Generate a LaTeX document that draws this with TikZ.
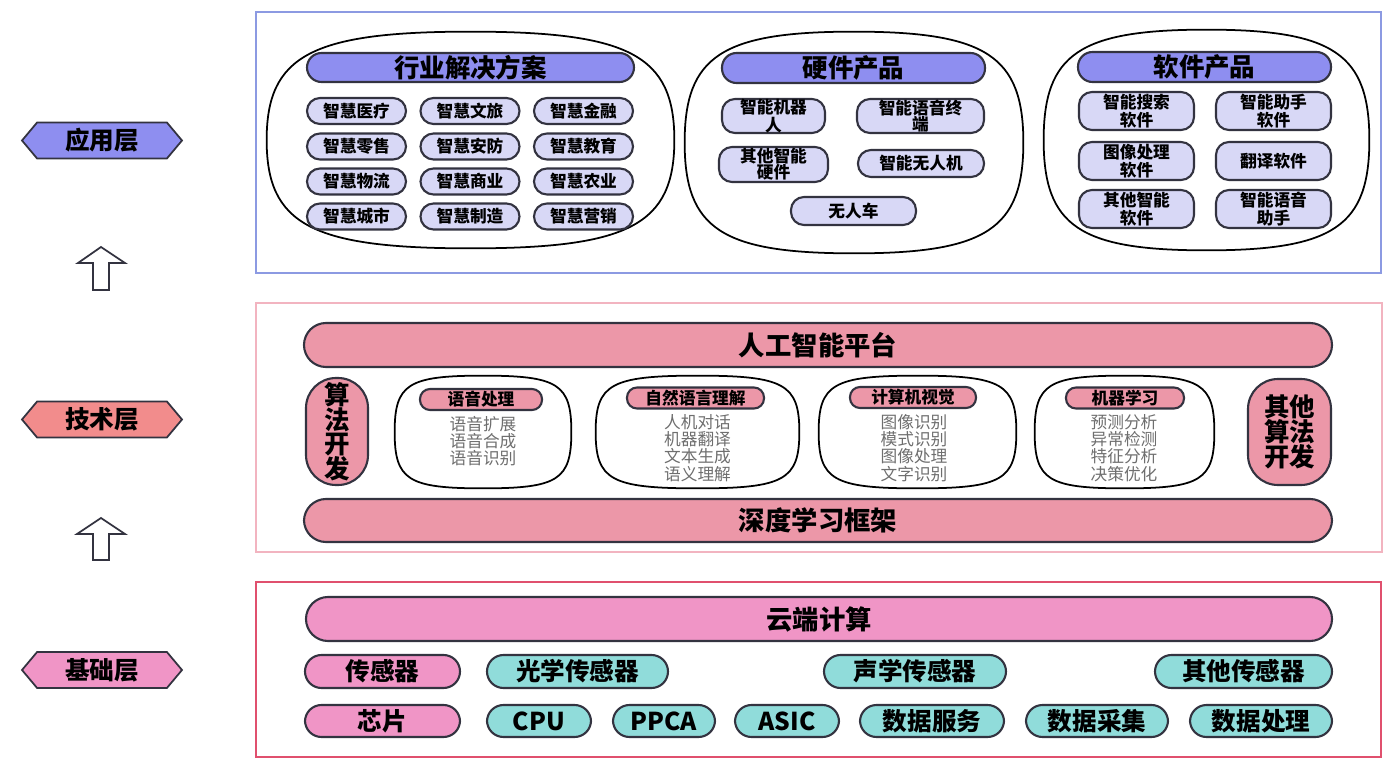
\documentclass[tikz,border=0pt]{standalone}
\usepackage{fontspec}
\setmainfont{Noto Sans CJK SC}
\usetikzlibrary{shapes.symbols,calc}

\definecolor{appblue}{HTML}{8E8EF0}
\definecolor{applight}{HTML}{D8D8F6}
\definecolor{appline}{HTML}{8C9AE2}
\definecolor{techrose}{HTML}{EC97A8}
\definecolor{techhex}{HTML}{F28C8C}
\definecolor{techline}{HTML}{F2B4C0}
\definecolor{basepink}{HTML}{F095C6}
\definecolor{baseteal}{HTML}{90DCDA}
\definecolor{baseline}{HTML}{E0506E}
\definecolor{pillline}{HTML}{333340}
\definecolor{txtgray}{HTML}{6E6E6E}

% rounded outline around a named box
\newcommand{\roundgroup}[2][0.75]{%
	\draw [line width=1pt] (#2.north)
	.. controls ($(#2.north)!#1!(#2.north east)$) and ($(#2.east)!#1!(#2.north east)$) .. (#2.east)
	.. controls ($(#2.east)!#1!(#2.south east)$) and ($(#2.south)!#1!(#2.south east)$) .. (#2.south)
	.. controls ($(#2.south)!#1!(#2.south west)$) and ($(#2.west)!#1!(#2.south west)$) .. (#2.west)
	.. controls ($(#2.west)!#1!(#2.north west)$) and ($(#2.north)!#1!(#2.north west)$) .. (#2.north) -- cycle;}

\begin{document}
\begin{tikzpicture}[x=0.02cm,y=-0.02cm,
	sz/.style 2 args={minimum width=#1*0.02cm,minimum height=#2*0.02cm,inner sep=0pt},
	layer/.style={signal,signal to=west and east,signal pointer angle=100,draw=pillline,line width=1pt,inner sep=0pt,font=\bfseries\fontsize{14}{14}\selectfont},
	panel/.style={draw=#1,line width=1.3pt},
	title/.style={draw=pillline,line width=1.2pt,rounded corners=0.29cm,fill=appblue,font=\bfseries\fontsize{14.5}{14.5}\selectfont},
	pill/.style={draw=pillline,line width=1.2pt,rounded corners=0.26cm,fill=applight,align=center,font=\bfseries\fontsize{9.5}{9}\selectfont},
	bar/.style={draw=pillline,line width=1.2pt,rounded corners=0.44cm,fill=#1,font=\bfseries\fontsize{15}{15}\selectfont},
	tag/.style={draw=pillline,line width=1.2pt,rounded corners=0.2cm,fill=techrose,font=\bfseries\fontsize{9.5}{9.5}\selectfont},
	algo/.style={draw=pillline,line width=1.2pt,rounded corners=0.6cm,fill=techrose,align=center,font=\bfseries\fontsize{14.5}{14}\selectfont},
	items/.style={align=center,text=txtgray,inner sep=0pt,font=\fontsize{9.5}{8.6}\selectfont},
	base/.style={draw=pillline,line width=1.2pt,rounded corners=0.33cm,fill=#1,font=\bfseries\fontsize{14}{14}\selectfont},
	uparr/.style={draw=pillline,line width=1pt,fill=white}]
	\useasboundingbox (0,0) rectangle (1393,767);

	% layer labels
	\node [layer,fill=appblue,sz={160}{36}] (appl) at (102,140.5) {应用层};
	\node [layer,fill=techhex,sz={160}{36}] (techl) at (102,419.5) {技术层};
	\node [layer,fill=basepink,sz={160}{36}] (basel) at (102,670) {基础层};
	\draw [uparr] (93,290) -- (93,263) -- (78,263) -- (101,247) -- (125,263) -- (109,263) -- (109,290) -- cycle;
	\draw [uparr] (93,560) -- (93,534) -- (77,534) -- (101,518) -- (125,534) -- (109,534) -- (109,560) -- cycle;

	% application layer
	\draw [panel=appline] (256,12) rectangle (1381,273);
	\node [sz={407}{216}] (sol) at (470.5,140) {};
	\node [sz={338}{221}] (hw) at (854,142.5) {};
	\node [sz={325}{220}] (sw) at (1206.5,140) {};
	\roundgroup[0.78]{sol}
	\roundgroup[0.78]{hw}
	\roundgroup[0.78]{sw}

	\node [title,sz={327}{29}] (solt) at (470.5,67.5) {行业解决方案};
	\node [pill,sz={99}{26}] (s11) at (356.5,111) {智慧医疗};
	\node [pill,sz={99}{26}] (s12) at (470,111) {智慧文旅};
	\node [pill,sz={99}{26}] (s13) at (583.5,111) {智慧金融};
	\node [pill,sz={99}{26}] (s21) at (356.5,146.5) {智慧零售};
	\node [pill,sz={99}{26}] (s22) at (470,146.5) {智慧安防};
	\node [pill,sz={99}{26}] (s23) at (583.5,146.5) {智慧教育};
	\node [pill,sz={99}{26}] (s31) at (356.5,181.5) {智慧物流};
	\node [pill,sz={99}{26}] (s32) at (470,181.5) {智慧商业};
	\node [pill,sz={99}{26}] (s33) at (583.5,181.5) {智慧农业};
	\node [pill,sz={99}{26}] (s41) at (356.5,216.5) {智慧城市};
	\node [pill,sz={99}{26}] (s42) at (470,216.5) {智慧制造};
	\node [pill,sz={99}{26}] (s43) at (583.5,216.5) {智慧营销};

	\node [title,sz={263}{30}] (hwt) at (853.5,68) {硬件产品};
	\node [pill,sz={103}{34}] (h1) at (773.5,116) {智能机器\\人};
	\node [pill,sz={127}{34}] (h2) at (920.5,116) {智能语音终\\端};
	\node [pill,sz={109}{35}] (h3) at (773.5,164.5) {其他智能\\硬件};
	\node [pill,sz={126}{27}] (h4) at (921,163.5) {智能无人机};
	\node [pill,sz={125}{28}] (h5) at (853.5,211) {无人车};

	\node [title,sz={253}{30}] (swt) at (1204.5,67) {软件产品};
	\node [pill,sz={115}{38}] (w1) at (1136.5,111) {智能搜索\\软件};
	\node [pill,sz={115}{38}] (w2) at (1273.5,111) {智能助手\\软件};
	\node [pill,sz={115}{38}] (w3) at (1136.5,161) {图像处理\\软件};
	\node [pill,sz={115}{38}] (w4) at (1273.5,161) {翻译软件};
	\node [pill,sz={115}{38}] (w5) at (1136.5,209) {其他智能\\软件};
	\node [pill,sz={115}{38}] (w6) at (1273.5,209) {智能语音\\助手};

	% technology layer
	\draw [panel=techline] (256,303) rectangle (1382,552);
	\node [bar=techrose,sz={1028}{44}] (plat) at (818,345) {人工智能平台};
	\node [bar=techrose,sz={1028}{43}] (dl) at (818,520.5) {深度学习框架};
	\node [algo,sz={62}{107}] (algo) at (337,431.5) {算\\法\\开\\发};
	\node [algo,sz={83}{106}] (algo2) at (1289.5,432) {其他\\算法\\开发};

	\node [sz={176}{112}] (voice) at (483,432) {};
	\node [sz={203}{112}] (nlp) at (697.5,432) {};
	\node [sz={197}{112}] (cv) at (917.5,432) {};
	\node [sz={179}{112}] (ml) at (1124.5,432) {};
	\roundgroup[0.85]{voice}
	\roundgroup[0.85]{nlp}
	\roundgroup[0.85]{cv}
	\roundgroup[0.85]{ml}

	\node [tag,sz={122}{21}] (voicet) at (481,399.5) {语音处理};
	\node [tag,sz={137}{21}] (nlpt) at (695.5,398) {自然语言理解};
	\node [tag,sz={126}{21}] (cvt) at (913,397.5) {计算机视觉};
	\node [tag,sz={118}{21}] (mlt) at (1125,398) {机器学习};

	\node [items] (voicei) at (483,441) {语音扩展\\语音合成\\语音识别};
	\node [items] (nlpi) at (697.5,448) {人机对话\\机器翻译\\文本生成\\语义理解};
	\node [items] (cvi) at (914,448) {图像识别\\模式识别\\图像处理\\文字识别};
	\node [items] (mli) at (1124,448) {预测分析\\异常检测\\特征分析\\决策优化};

	% base layer
	\draw [panel=baseline] (256,582) rectangle (1381,757);
	\node [bar=basepink,sz={1026}{44}] (cloud) at (819,619) {云端计算};
	\node [base=basepink,sz={155}{33}] (sens) at (382.5,671.5) {传感器};
	\node [base=baseteal,sz={181}{33}] (opt) at (577.5,671.5) {光学传感器};
	\node [base=baseteal,sz={182}{33}] (aco) at (915,671.5) {声学传感器};
	\node [base=baseteal,sz={177}{33}] (oth) at (1243.5,671.5) {其他传感器};
	\node [base=basepink,sz={155}{32}] (chip) at (382.5,721) {芯片};
	\node [base=baseteal,sz={104}{32}] (cpu) at (539,721) {CPU};
	\node [base=baseteal,sz={102}{32}] (ppca) at (664,721) {PPCA};
	\node [base=baseteal,sz={104}{32}] (asic) at (787,721) {ASIC};
	\node [base=baseteal,sz={144}{32}] (dsrv) at (932,721) {数据服务};
	\node [base=baseteal,sz={142}{32}] (dcol) at (1097,721) {数据采集};
	\node [base=baseteal,sz={142}{32}] (dproc) at (1261,721) {数据处理};
\end{tikzpicture}
\end{document}
